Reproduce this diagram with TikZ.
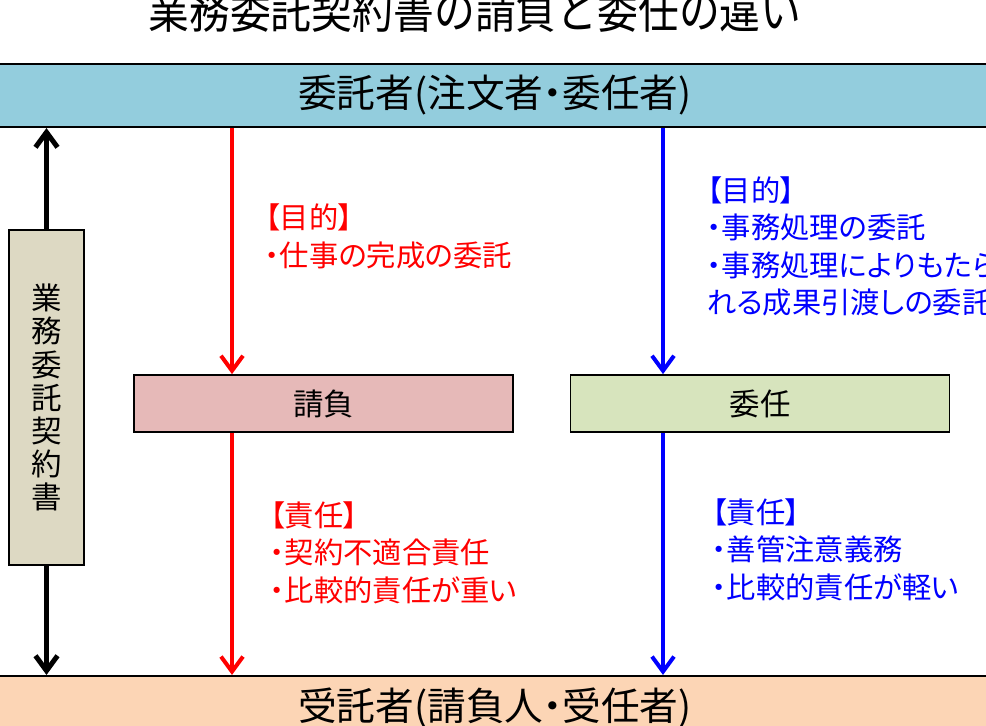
\documentclass[tikz,border=0pt]{standalone}
\usepackage{fontspec}
\usepackage{tikz}
\usetikzlibrary{arrows.meta,positioning}
\newfontfamily\jpfont{Noto Sans CJK JP}
\newfontfamily\jppalt[RawFeature=+palt]{Noto Sans CJK JP}
\definecolor{clientbar}{RGB}{147,205,221}
\definecolor{agentbar}{RGB}{252,213,181}
\definecolor{ukeoifill}{RGB}{230,185,184}
\definecolor{ininfill}{RGB}{215,228,189}
\definecolor{docfill}{RGB}{221,217,195}
\definecolor{ukeoired}{RGB}{255,0,0}
\definecolor{ininblue}{RGB}{0,0,255}
\tikzset{
  partybar/.style={draw, line width=1.8pt, minimum width=33cm, minimum height=1.89cm, inner sep=0pt, font=\jppalt\fontsize{33pt}{36pt}\selectfont},
  kindbox/.style={draw, line width=1.5pt, minimum width=11.37cm, minimum height=1.71cm, font=\jpfont\fontsize{26pt}{30pt}\selectfont},
  notetext/.style={anchor=north west, inner sep=0pt, align=left, font=\jppalt\fontsize{25pt}{32pt}\selectfont},
  flow/.style={-{Straight Barb[length=0.45cm,width=0.66cm]}, line width=0.12cm}
}

\begin{document}
\begin{tikzpicture}[x=0.03cm, y=-0.03cm]
    \path[use as bounding box] (0,0) rectangle (986,725);
    \clip (0,0) rectangle (986,725);

    \node[font=\jpfont\fontsize{41pt}{44pt}\selectfont, inner sep=0pt] (title) at (475,10) {\scalebox{0.85}[1]{業務委託契約書の請負と委任の違い}};

    \node[partybar, fill=clientbar] (client) at (495,95.5) {委託者(注文者・委任者)};
    \node[partybar, fill=agentbar] (agent) at (495,707.5) {受託者(請負人・受任者)};

    \node[kindbox, fill=ukeoifill] (ukeoi) at (323.5,403.5) {請負};
    \node[kindbox, fill=ininfill] (inin) at (760,403.5) {委任};

    \node[draw, line width=1.5pt, fill=docfill, minimum width=2.25cm, minimum height=10.05cm, align=center,
          font=\jpfont\fontsize{26pt}{28.2pt}\selectfont] (doc) at (46.5,397.5) {業\\務\\委\\託\\契\\約\\書};

    \draw[flow, line width=0.15cm] (doc.north) -- (doc.north |- client.south);
    \draw[flow, line width=0.15cm] (doc.south) -- (doc.south |- agent.north);

    \coordinate (redline) at (232,0);
    \coordinate (blueline) at (663,0);
    \draw[flow, ukeoired] (redline |- client.south) -- (redline |- ukeoi.north);
    \draw[flow, ukeoired] (redline |- ukeoi.south) -- (redline |- agent.north);
    \draw[flow, ininblue] (blueline |- client.south) -- (blueline |- inin.north);
    \draw[flow, ininblue] (blueline |- inin.south) -- (blueline |- agent.north);

    \node[notetext, text=ukeoired, font=\jppalt\fontsize{25pt}{33pt}\selectfont] (ukeoiaim) at (265,203) {【目的】\\・仕事の完成の委託};
    \node[notetext, text=ukeoired] (ukeoiduty) at (270,501) {【責任】\\・契約不適合責任\\・比較的責任が重い};
    \node[notetext, text=ininblue] (ininaim) at (707,176) {【目的】\\・事務処理の委託\\・事務処理によりもたらさ\\れる成果引渡しの委託};
    \node[notetext, text=ininblue] (ininduty) at (712,498) {【責任】\\・善管注意義務\\・比較的責任が軽い};
\end{tikzpicture}
\end{document}
